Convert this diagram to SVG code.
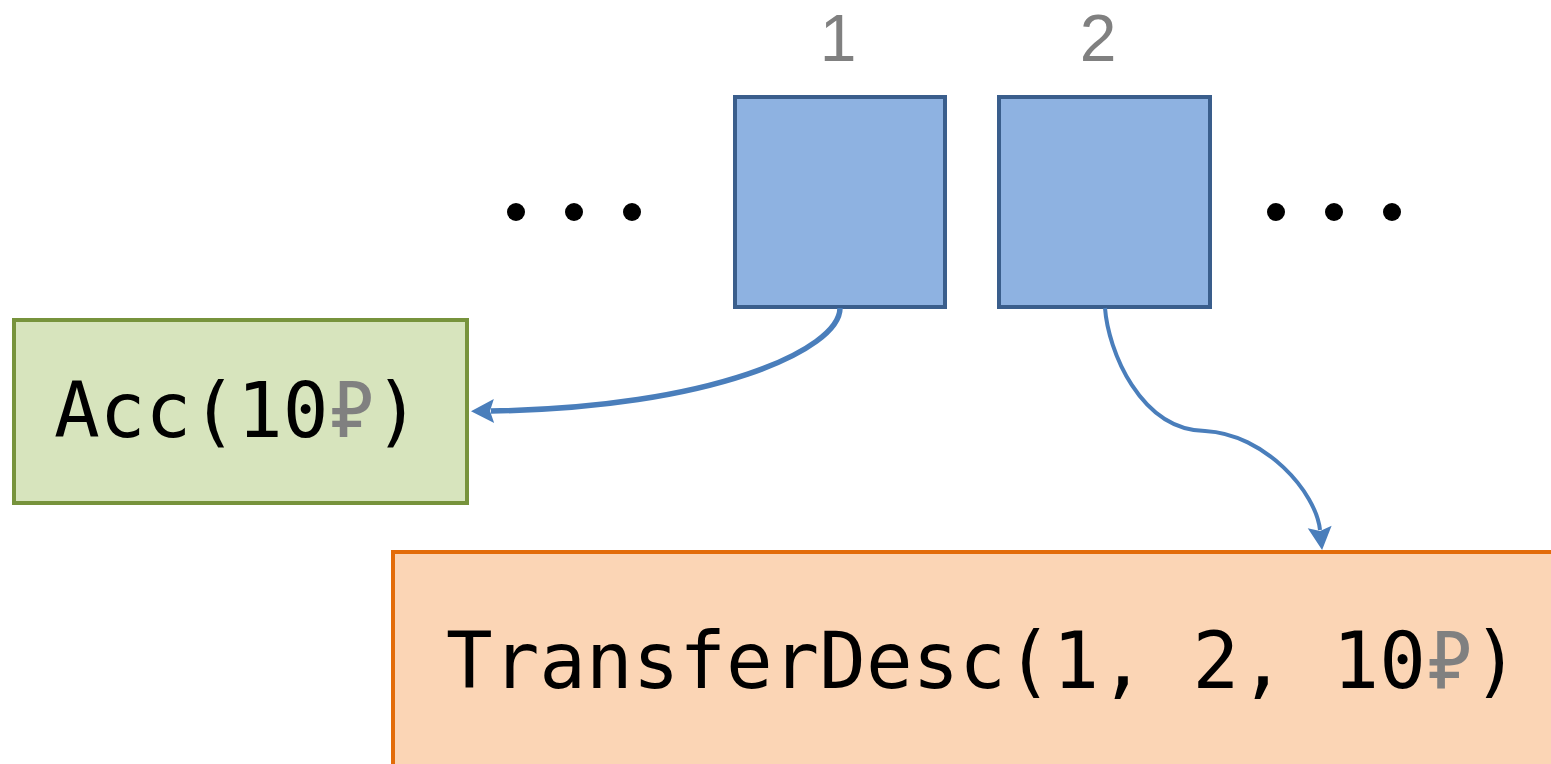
<svg xmlns="http://www.w3.org/2000/svg" width="1551" height="764" viewBox="0 0 1551 764">
<style>
.blk{fill:#8EB2E1;stroke:#3A5E8C;stroke-width:4}
.idx{font-family:"Liberation Sans","Noto Sans",sans-serif;font-size:66px;fill:#808080;text-anchor:middle}
.code{font-family:"DejaVu Sans Mono","Liberation Mono",monospace;font-size:76px;fill:#000}
.rub{fill:#808080}
.conn{fill:none;stroke:#4A7EBB}
.dot{fill:#000}
</style>
<defs>
<marker id="ah" markerUnits="userSpaceOnUse" markerWidth="26" markerHeight="26" refX="3" refY="12" orient="auto" overflow="visible">
<path d="M0,0 L23,12 L0,24 L4,12 z" fill="#4A7EBB"/>
</marker>
</defs>
<rect width="1551" height="764" fill="#fff"/>
<g id="block1">
<rect class="blk" x="735" y="97" width="210" height="210"/>
<text class="idx" x="838" y="61">1</text>
</g>
<g id="block2">
<rect class="blk" x="999" y="97" width="211" height="210"/>
<text class="idx" x="1098" y="61">2</text>
</g>
<g id="dots-left">
<circle class="dot" cx="516" cy="212" r="9"/>
<circle class="dot" cx="574" cy="212" r="9"/>
<circle class="dot" cx="632" cy="212" r="9"/>
</g>
<g id="dots-right">
<circle class="dot" cx="1276" cy="212" r="9"/>
<circle class="dot" cx="1334" cy="212" r="9"/>
<circle class="dot" cx="1392" cy="212" r="9"/>
</g>
<g id="acc">
<rect x="14" y="320" width="453" height="183" fill="#D7E4BD" stroke="#77933C" stroke-width="4"/>
<text class="code" x="54" y="437">Acc(10<tspan class="rub">₽</tspan>)</text>
</g>
<g id="transfer">
<rect x="393" y="552" width="1170" height="230" fill="#FBD5B5" stroke="#E36C09" stroke-width="4"/>
<text class="code" x="446" y="688" style="font-size:77.5px">TransferDesc(1, 2, 10<tspan class="rub">₽</tspan>)</text>
</g>
<g id="connectors">
<path class="conn" stroke-width="5.5" d="M840,308 C840,350 710,408 491,411" marker-end="url(#ah)"/>
<path class="conn" stroke-width="4" d="M1105,308 C1108,350 1140,430 1205,431 C1265,434 1316,492 1320,530" marker-end="url(#ah)"/>
</g>
</svg>
